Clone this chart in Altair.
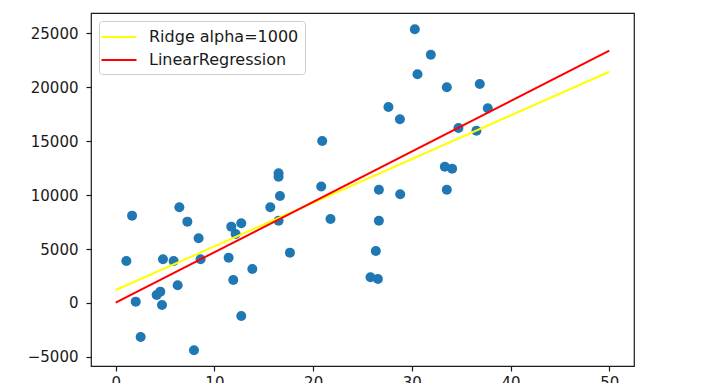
import altair as alt
import pandas as pd

# scatter data
xs = [1.08, 1.66, 2.03, 2.53, 4.15, 4.52, 4.69, 4.79, 5.87, 6.45,
      6.28, 7.26, 8.40, 8.60, 7.93, 11.44, 11.71, 11.91, 12.15, 12.72,
      12.72, 13.84, 15.66, 16.50, 16.50, 16.64, 16.50, 17.65, 20.82, 21.76,
      26.66, 28.82, 33.54, 26.66, 26.35, 25.81, 26.56, 30.30, 31.92, 30.57,
      33.54, 36.88, 27.63, 37.69, 28.79, 34.72, 36.54, 20.92, 33.34, 34.08]
ys = [3896, 8098, 121, -3154, 742, 1048, -186, 4053, 3896, 8877,
      1642, 7542, 6000, 4053, -4388, 4200, 7078, 2133, 6400, 7393,
      -1206, 3154, 8877, 12030, 11715, 9925, 7634, 4666, 10800, 7792,
      10510, 10083, 10510, 7634, 4823, 2384, 2226, 25388, 23033, 21214,
      20008, 20314, 18181, 18061, 17040, 16233, 15983, 15027, 12643, 12458]

# fitted lines (endpoints)
line_x = [0, 50]
ridge_y = [1200, 21450]
lr_y = [30, 23400]
models = ["Ridge alpha=1000", "LinearRegression"]
model_colors = ["yellow", "red"]

x_ticks = [0, 10, 20, 30, 40, 50]
y_ticks = [-5000, 0, 5000, 10000, 15000, 20000, 25000]

pts = pd.DataFrame({"x": xs, "y": ys})
lines = pd.DataFrame({
    "x": line_x + line_x,
    "y": ridge_y + lr_y,
    "model": [models[0]] * 2 + [models[1]] * 2,
    "order": [0, 0, 1, 1],
})

xscale = alt.Scale(domain=[-2.5, 52.5], nice=False, zero=False)
yscale = alt.Scale(domain=[-5850, 26900], nice=False, zero=False)

xaxis = alt.Axis(values=x_ticks, title=None, grid=False, domain=False,
                 format="d", labelPadding=4)
yaxis = alt.Axis(values=y_ticks, title=None, grid=False, domain=False,
                 format="d", labelPadding=8,
                 labelExpr="replace(datum.label, '-', '\u2212')")

scatter = alt.Chart(pts).mark_circle(size=100, opacity=1, color="#1f77b4").encode(
    x=alt.X("x:Q", scale=xscale, axis=xaxis),
    y=alt.Y("y:Q", scale=yscale, axis=yaxis),
)

line = alt.Chart(lines).mark_line(strokeWidth=2).encode(
    x=alt.X("x:Q", scale=xscale),
    y=alt.Y("y:Q", scale=yscale),
    color=alt.Color(
        "model:N",
        scale=alt.Scale(domain=models, range=model_colors),
        legend=alt.Legend(
            title=None, orient="none", legendX=8, legendY=8,
            symbolType="M-2,0H2", symbolSize=306, symbolStrokeWidth=2.2,
            symbolOffset=4,
            labelOffset=20, labelFontSize=16, labelFont="DejaVu Sans",
            labelColor="#1a1a1a", rowPadding=5, padding=6,
            fillColor="rgba(255,255,255,0.8)", strokeColor="#cccccc",
            cornerRadius=3,
        ),
    ),
    order="order:Q",
    detail="model:N",
)

chart = alt.layer(scatter, line).properties(
    width=543, height=353,
    autosize=alt.AutoSizeParams(type="none"),
    padding={"left": 83, "top": 5, "right": 30, "bottom": 30},
).configure_view(
    stroke="#1a1a1a", strokeWidth=1.2
).configure_axis(
    labelFont="DejaVu Sans", labelFontSize=15, labelColor="#1a1a1a",
    tickColor="#1a1a1a", tickSize=5, tickWidth=1.2,
)

chart.save("out.html", embed_options={"renderer": "svg", "actions": False})
